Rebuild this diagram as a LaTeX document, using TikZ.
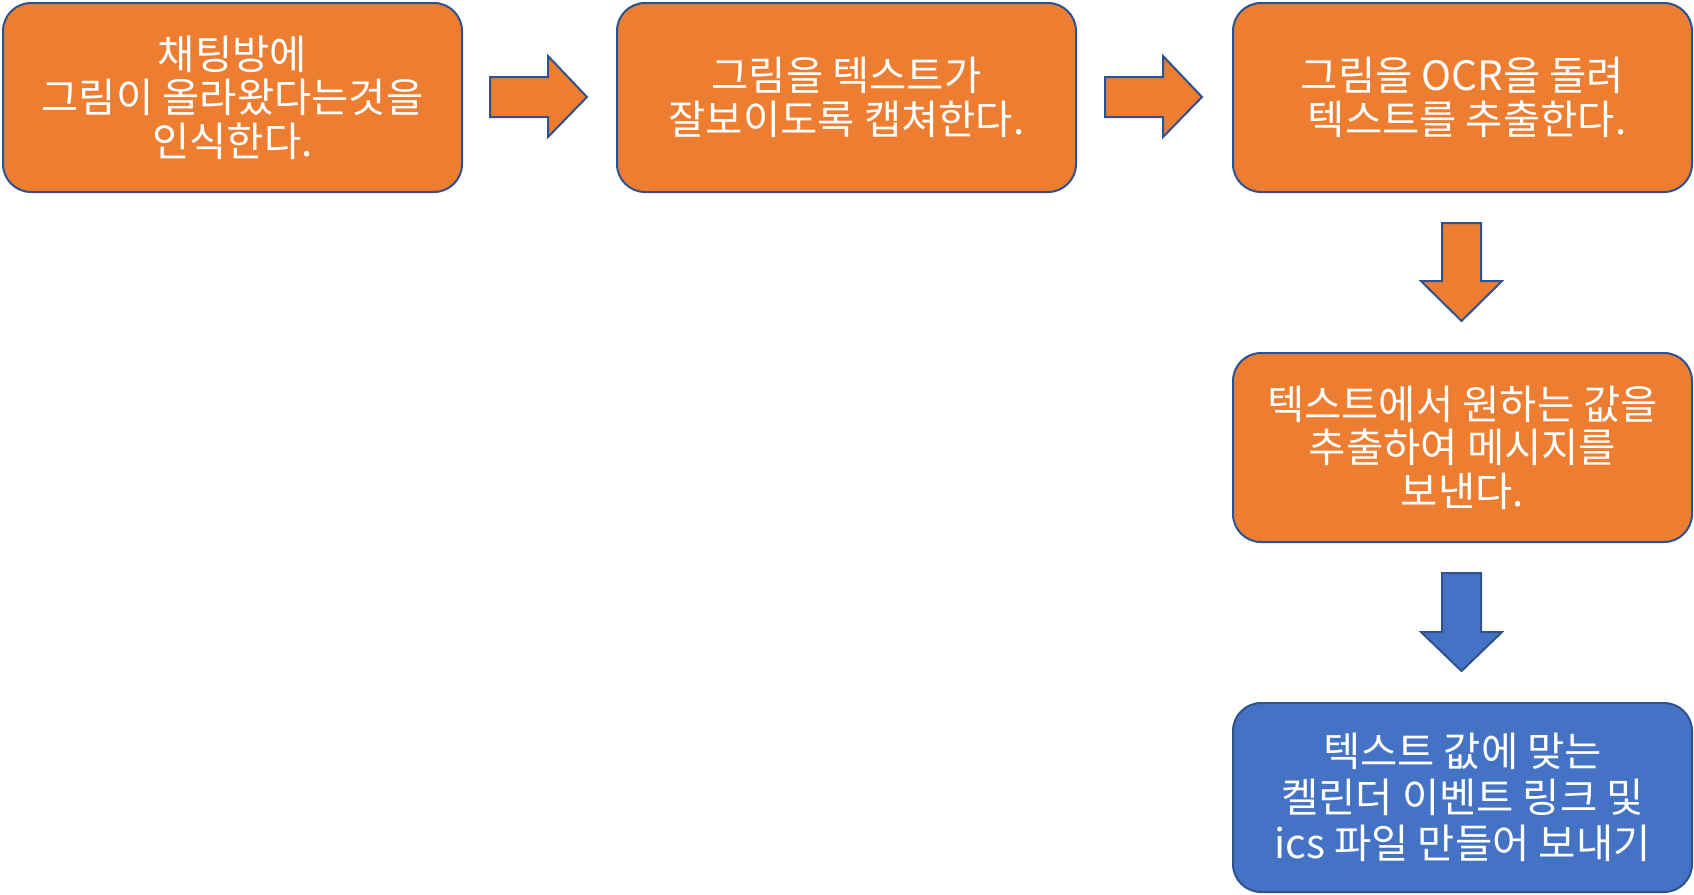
\documentclass[tikz,border=0pt]{standalone}
\usepackage{fontspec}
\setmainfont{Noto Sans CJK KR}
\definecolor{boxorange}{HTML}{ED7D31}
\definecolor{boxblue}{HTML}{4472C4}
\definecolor{edgeblue}{HTML}{2F528F}
\tikzset{
  stepbox/.style={draw=edgeblue, line width=2pt, rounded corners=28pt, minimum width=459pt, minimum height=189pt, inner sep=0pt, align=center, text=white, font=\fontsize{40.5pt}{43.5pt}\selectfont, anchor=north west},
  orangebox/.style={stepbox, fill=boxorange},
  bluebox/.style={stepbox, fill=boxblue, font=\fontsize{40.5pt}{46pt}\selectfont},
  blockarrow/.style={draw=edgeblue, line width=2pt, line join=miter}
}
\begin{document}
\begin{tikzpicture}[x=1pt,y=-1pt]
\useasboundingbox (0,0) rectangle (1694,894);
\node[orangebox] (b1) at (2,2) {채팅방에\\그림이 올라왔다는것을\\인식한다.};
\node[orangebox] (b2) at (616,2) {그림을 텍스트가\\잘보이도록 캡쳐한다.};
\node[orangebox] (b3) at (1232,2) {그림을 OCR을 돌려\\~텍스트를 추출한다.};
\node[orangebox] (b4) at (1232,352) {텍스트에서 원하는 값을\\추출하여 메시지를\\보낸다.};
\node[bluebox] (b5) at (1232,702) {텍스트 값에 맞는\\켈린더 이벤트 링크 및\\ics 파일 만들어 보내기};
% right arrows
\filldraw[blockarrow, fill=boxorange] (490,77) -- (548,77) -- (548,56) -- (587,97) -- (548,137) -- (548,117) -- (490,117) -- cycle;
\filldraw[blockarrow, fill=boxorange] (1105,77) -- (1163,77) -- (1163,56) -- (1202,97) -- (1163,137) -- (1163,117) -- (1105,117) -- cycle;
% down arrows
\filldraw[blockarrow, fill=boxorange] (1442,223) -- (1481,223) -- (1481,281) -- (1502,281) -- (1461.5,321) -- (1421,281) -- (1442,281) -- cycle;
\filldraw[blockarrow, fill=boxblue] (1442,573) -- (1481,573) -- (1481,632) -- (1502,632) -- (1461.5,671) -- (1421,632) -- (1442,632) -- cycle;
\end{tikzpicture}
\end{document}
